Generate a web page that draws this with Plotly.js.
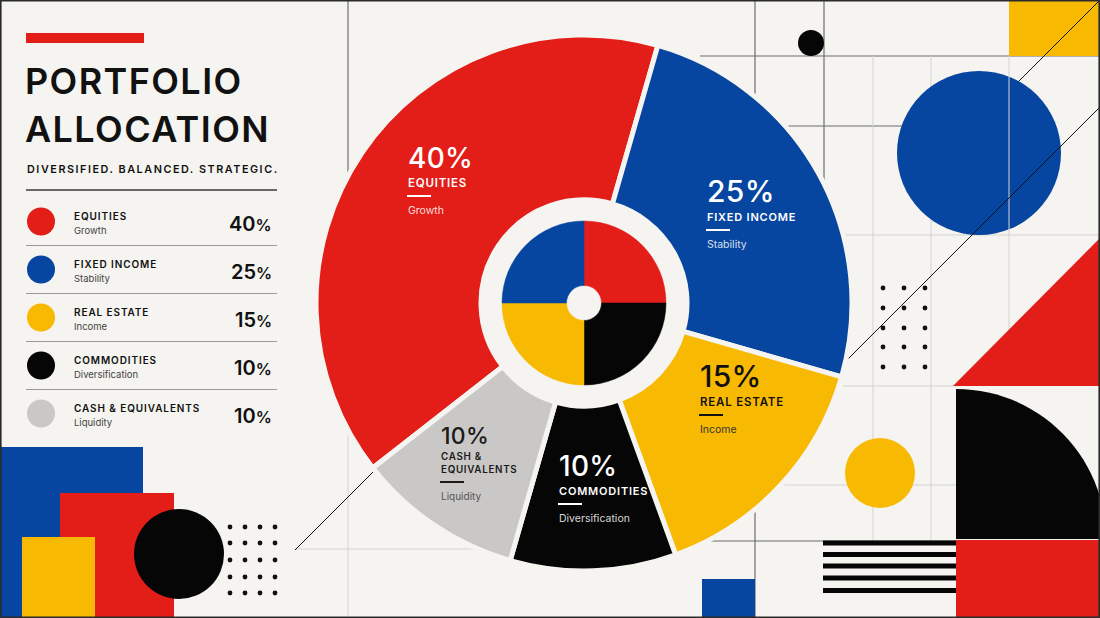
<!DOCTYPE html>
<html>
<head>
<meta charset="utf-8">
<script src="https://cdn.plot.ly/plotly-3.0.1.min.js"></script>
<style>
html,body{margin:0;padding:0;background:#f5f4f0;}
#chart{width:1100px;height:618px;}
</style>
</head>
<body>
<div id="chart"></div>
<script>
// ---------------- DATA ----------------
const categories = ['Equities', 'Fixed Income', 'Real Estate', 'Commodities', 'Cash & Equivalents'];
const categoryLabels = ['EQUITIES', 'FIXED INCOME', 'REAL ESTATE', 'COMMODITIES', 'CASH & EQUIVALENTS'];
const roles = ['Growth', 'Stability', 'Income', 'Diversification', 'Liquidity'];
const allocationPct = [40, 25, 15, 10, 10];
const sliceColors = ['#e31d18', '#0645a0', '#f8b902', '#060606', '#c9c8c6'];
const titleLines = ['PORTFOLIO', 'ALLOCATION'];
const subtitle = 'DIVERSIFIED. BALANCED. STRATEGIC.';

// ---------------- STYLE ----------------
const BG = '#f5f4f0';
const FONT = 'Inter, "Noto Sans", sans-serif';
const RED = '#e31d18', BLUE = '#0645a0', YELLOW = '#f8b902', BLACK = '#060606';
const CX = 584, CY = 303, RPX = 272;          // polar centre / radius in pixels
const R_IN = 103, R_OUT = 268;                // ring extent (px == radial units)

// slice geometry derived from the data
const total = allocationPct.reduce((a, b) => a + b, 0);
const sliceWidths = allocationPct.map(v => v / total * 360);
const sliceThetas = [];
{ let acc = 0; sliceWidths.forEach(w => { sliceThetas.push(acc + w / 2); acc += w; }); }

// ---------------- helpers ----------------
const shapes = [];
const anns = [];
const letterSp = [];
function rect(x0, y0, x1, y1, c) { shapes.push({type:'rect', xref:'x', yref:'y', x0, y0, x1, y1, fillcolor:c, line:{width:0}, layer:'below'}); }
function circ(cx, cy, r, c) { shapes.push({type:'circle', xref:'x', yref:'y', x0:cx-r, x1:cx+r, y0:cy-r, y1:cy+r, fillcolor:c, line:{width:0}, layer:'below'}); }
function ln(x0, y0, x1, y1, c, w) { shapes.push({type:'line', xref:'x', yref:'y', x0, y0, x1, y1, line:{color:c, width:w}, layer:'below'}); }
function pth(d, c) { shapes.push({type:'path', xref:'x', yref:'y', path:d, fillcolor:c, line:{width:0}, layer:'below'}); }
function T(x, base, text, size, color, weight, ls, xanchor) {
  xanchor = xanchor || 'left';
  anns.push({xref:'x', yref:'y', x, y: base - 0.364 * size, text, showarrow:false,
    xanchor, yanchor:'middle', align: xanchor === 'right' ? 'right' : 'left', borderpad:0,
    font:{family:FONT, size, color, weight}});
  letterSp.push(ls || 0);
}

const DARK = '#6d6d6d', LIGHT = '#d4d3cf';

// ---------------- background grid & decoration ----------------
ln(348, 0, 348, 300, DARK, 1.2);
ln(348, 300, 348, 618, LIGHT, 1);
ln(295, 549, 600, 549, LIGHT, 1);
ln(295, 550, 400, 445, '#111', 1);          // lower-left diagonal
ln(755, 0, 755, 618, DARK, 1.2);
ln(824, 0, 824, 300, DARK, 1.2);
ln(700, 56, 1100, 56, DARK, 1.2);
ln(755, 126, 960, 126, DARK, 1.2);
ln(873, 56, 873, 541, LIGHT, 1);
ln(931, 56, 931, 541, LIGHT, 1);
ln(820, 235, 1100, 235, LIGHT, 1);
ln(843, 386, 956, 386, LIGHT, 1);
ln(755, 485, 956, 485, LIGHT, 1);
ln(640, 541, 956, 541, DARK, 1.2);
rect(1009, 0, 1100, 56, YELLOW);
ln(1100, 0, 985, 115, '#111', 1);           // top-right diagonal
circ(811, 43, 13, BLACK);
circ(979, 153, 82, BLUE);
ln(1009, 56, 1009, 386, LIGHT, 1);
ln(1100, 107, 820, 387, '#111', 1);         // long diagonal
pth('M 953 386 L 1100 386 L 1100 238 Z', RED);
const k = 0.5523 * 150;
pth(`M 956 539 L 956 389 C ${956 + k} 389 1106 ${539 - k} 1106 539 Z`, BLACK);
rect(956, 540, 1100, 618, RED);
circ(880, 473, 35, YELLOW);
[543, 554.5, 566, 578, 590.5].forEach(y => rect(823, y - 2.4, 956, y + 2.4, BLACK));
rect(702, 579, 755, 618, BLUE);
// lower-left composition
rect(0, 447, 143, 618, BLUE);
rect(60, 493, 174, 618, RED);
rect(22, 537, 95, 618, YELLOW);
circ(179, 554, 45, BLACK);
// left panel
rect(26, 33, 144, 43, RED);
ln(26, 190, 277, 190, '#3a3a3a', 1.4);

// dot grids
const dotX = [], dotY = [];
[230, 245, 260, 275].forEach(x => [527, 543, 560, 577, 593].forEach(y => { dotX.push(x); dotY.push(y); }));
[883, 904, 925].forEach(x => [288, 308, 328, 347, 367].forEach(y => { dotX.push(x); dotY.push(y); }));

// ---------------- left-panel text ----------------
T(24, 94, titleLines[0], 36, '#111', 600, 1.4);
T(24, 142, titleLines[1], 36, '#111', 600, 1.4);
T(26, 173, subtitle, 10.8, '#111', 600, 1.55);

const rowY = categories.map((_, i) => 221.5 + 48 * i);
categories.forEach((c, i) => {
  const y = rowY[i];
  T(73, y - 2, categoryLabels[i], 10, '#111', 600, 0.9);
  T(73, y + 12, roles[i], 9.5, '#444', 400, 0);
  T(273, y + 9.5, `${allocationPct[i]}<span style="font-size:16px">%</span>`, 20, '#111', 600, 0, 'right');
  if (i < categories.length - 1) ln(26, y + 24, 277, y + 24, '#9a9a9a', 1);
});

// ---------------- pie labels ----------------
const pieLabelStyle = [
  {x:407, base:168, pct:28, name:11.5, sub:10.5, color:'#ffffff', subColor:'rgba(255,255,255,0.85)'},
  {x:706, base:202, pct:30, name:11,   sub:10.5, color:'#ffffff', subColor:'rgba(255,255,255,0.85)'},
  {x:699, base:387, pct:30, name:11.5, sub:10.5, color:'#111111', subColor:'#333333'},
  {x:558, base:476, pct:28, name:11,   sub:10.5, color:'#ffffff', subColor:'rgba(255,255,255,0.85)'},
  {x:440, base:444, pct:23, name:9.8,  sub:10,   color:'#1a1a1a', subColor:'#555555', wrap:true},
];
categories.forEach((c, i) => {
  const s = pieLabelStyle[i];
  T(s.x, s.base, allocationPct[i] + '%', s.pct, s.color, 500, 0.3);
  let yb = s.base + 19;
  if (s.wrap) {
    const parts = categoryLabels[i].split(' & ');
    T(s.x, s.base + 16, parts[0] + ' &', s.name, s.color, 600, 0.7);
    T(s.x, s.base + 29, parts[1], s.name, s.color, 600, 0.7);
    yb = s.base + 29;
  } else {
    T(s.x, yb, categoryLabels[i], s.name, s.color, 600, 0.8);
  }
  shapes.push({type:'line', xref:'x', yref:'y', x0:s.x, x1:s.x + 24, y0:yb + 9, y1:yb + 9, line:{color:s.color, width:2}, layer:'above'});
  T(s.x, yb + 27, roles[i], s.sub, s.subColor, 400, 0);
});

// frame
shapes.push({type:'rect', xref:'x', yref:'y', x0:0.8, y0:0.8, x1:1099.2, y1:617.2, line:{color:'#2b2b2b', width:1.6}, fillcolor:'rgba(0,0,0,0)', layer:'above'});

// ---------------- traces ----------------
const data = [
  {type:'scatter', mode:'markers', x:dotX, y:dotY, xaxis:'x', yaxis:'y',
   marker:{size:4.8, color:'#111'}, hoverinfo:'skip'},
  {type:'scatter', mode:'markers', x:categories.map(() => 41), y:rowY, xaxis:'x', yaxis:'y',
   marker:{size:28, color:sliceColors, line:{width:0}}, text:categories, hoverinfo:'text'},
  {type:'barpolar', subplot:'polar', theta:sliceThetas, width:sliceWidths,
   r:allocationPct.map(() => R_OUT - R_IN), base:allocationPct.map(() => R_IN),
   marker:{color:sliceColors, line:{color:BG, width:5}}, text:categories, hoverinfo:'text'},
  {type:'barpolar', subplot:'polar2', theta:[45, 135, 225, 315], width:[90, 90, 90, 90],
   r:[64.5, 64.5, 64.5, 64.5], base:[17.5, 17.5, 17.5, 17.5],
   marker:{color:[RED, BLACK, YELLOW, BLUE], line:{color:[RED, BLACK, YELLOW, BLUE], width:0.5}}, hoverinfo:'skip'}
];

const dom = {x:[(CX - RPX) / 1100, (CX + RPX) / 1100], y:[(618 - CY - RPX) / 618, (618 - CY + RPX) / 618]};
const hiddenAng = {visible:false, showgrid:false, showline:false, showticklabels:false, ticks:''};
const hiddenRad = {visible:false, showgrid:false, showline:false, showticklabels:false, ticks:'', range:[0, RPX]};

const layout = {
  width:1100, height:618,
  margin:{l:0, r:0, t:0, b:0, pad:0},
  paper_bgcolor:BG, plot_bgcolor:'rgba(0,0,0,0)',
  showlegend:false,
  xaxis:{range:[0, 1100], visible:false, fixedrange:true, domain:[0, 1]},
  yaxis:{range:[618, 0], visible:false, fixedrange:true, domain:[0, 1]},
  polar:{domain:dom, bgcolor:'rgba(0,0,0,0)', bargap:0, hole:0,
    angularaxis:Object.assign({rotation:218, direction:'clockwise'}, hiddenAng), radialaxis:hiddenRad},
  polar2:{domain:dom, bgcolor:'rgba(0,0,0,0)', bargap:0, hole:0,
    angularaxis:Object.assign({rotation:90, direction:'clockwise'}, hiddenAng), radialaxis:hiddenRad},
  shapes, annotations:anns
};

Plotly.newPlot('chart', data, layout, {staticPlot:true, displayModeBar:false}).then(gd => {
  gd.querySelectorAll('g.annotation').forEach(g => {
    const i = +g.getAttribute('data-index');
    const t = g.querySelector('text.annotation-text');
    if (t && letterSp[i]) t.style.letterSpacing = letterSp[i] + 'px';
  });
});
</script>
</body>
</html>
